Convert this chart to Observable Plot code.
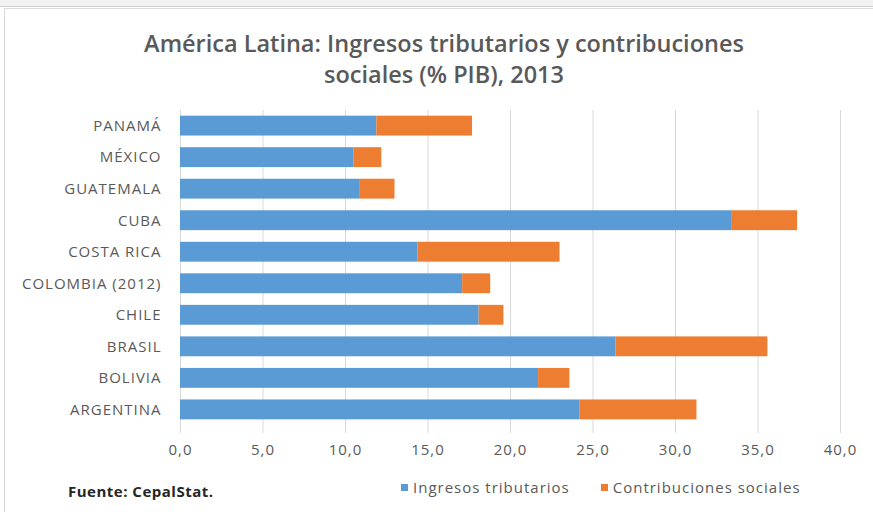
<!DOCTYPE html>
<html>
<head>
<meta charset="utf-8">
<script src="https://cdn.jsdelivr.net/npm/d3@7"></script>
<script src="https://cdn.jsdelivr.net/npm/@observablehq/plot@0.6"></script>
<style>
  html, body { margin: 0; padding: 0; background: #fff; }
  #wrap { position: relative; width: 873px; height: 512px; overflow: hidden; font-family: "Open Sans", Lato, sans-serif; }
  #frame { position: absolute; left: 4px; top: 8px; width: 880px; height: 520px; border: 1px solid #d9d9d9; }
  #topbar { position: absolute; left: 0; top: 0; width: 873px; height: 6px; background: #f2f2f2; border-bottom: 1px solid #d0d0d0; }
  #title { position: absolute; left: 0; top: 28px; width: 888px; text-align: center; font-size: 23.5px; font-weight: 600; line-height: 31px; color: #595959; }
  #plot { position: absolute; left: 0; top: 100px; }
  #legend { position: absolute; left: 401px; top: 477px; font-size: 15px; letter-spacing: 1px; color: #595959; display: flex; }
  .item { display: flex; align-items: center; margin-right: 31px; }
  .sw { width: 7px; height: 7px; margin-right: 5px; }
  #source { position: absolute; left: 68px; top: 481px; font-size: 15px; letter-spacing: 0.5px; font-weight: bold; color: #262626; }
</style>
</head>
<body>
<div id="wrap">
  <div id="topbar"></div>
  <div id="frame"></div>
  <div id="title">América Latina: Ingresos tributarios y contribuciones<br>sociales (% PIB), 2013</div>
  <div id="plot"></div>
  <div id="legend"></div>
  <div id="source">Fuente: CepalStat.</div>
</div>
<script>
const countries = ["PANAMÁ", "MÉXICO", "GUATEMALA", "CUBA", "COSTA RICA", "COLOMBIA (2012)", "CHILE", "BRASIL", "BOLIVIA", "ARGENTINA"];
const ingresos = [11.9, 10.5, 10.9, 33.4, 14.4, 17.1, 18.1, 26.4, 21.7, 24.2];
const contribuciones = [5.8, 1.7, 2.1, 4.0, 8.6, 1.7, 1.5, 9.2, 1.9, 7.1];
const seriesNames = ["Ingresos tributarios", "Contribuciones sociales"];
const seriesColors = ["#5B9BD5", "#ED7D31"];
const xTicks = [0, 5, 10, 15, 20, 25, 30, 35, 40];

const data = [];
countries.forEach((c, i) => {
  data.push({country: c, series: seriesNames[0], value: ingresos[i]});
  data.push({country: c, series: seriesNames[1], value: contribuciones[i]});
});

const fmt = d3.format(".1f");
const chart = Plot.plot({
  width: 873,
  height: 360,
  marginLeft: 180,
  marginRight: 33,
  marginTop: 10,
  marginBottom: 35,
  style: {fontFamily: "'Open Sans', Lato, sans-serif", fontSize: "15px", letterSpacing: "1px", color: "#595959", background: "transparent"},
  x: {domain: [0, 40], label: null},
  y: {domain: countries, paddingInner: 0.37, paddingOuter: 0.18, round: false, label: null},
  color: {domain: seriesNames, range: seriesColors},
  marks: [
    Plot.ruleX(xTicks, {stroke: "#d9d9d9", strokeWidth: 1, insetBottom: -8}),
    Plot.barX(data, {x: "value", y: "country", fill: "series", order: seriesNames}),
    Plot.axisX({ticks: xTicks, tickFormat: d => fmt(d).replace(".", ","), tickSize: 0, tickPadding: 19, fontSize: 15, label: null}),
    Plot.axisY({tickSize: 0, tickPadding: 19, fontSize: 15, label: null})
  ]
});
document.getElementById("plot").appendChild(chart);

const legend = document.getElementById("legend");
seriesNames.forEach((s, i) => {
  const item = document.createElement("div");
  item.className = "item";
  const sw = document.createElement("div");
  sw.className = "sw";
  sw.style.background = seriesColors[i];
  const t = document.createElement("span");
  t.textContent = s;
  item.appendChild(sw);
  item.appendChild(t);
  legend.appendChild(item);
});
</script>
</body>
</html>
